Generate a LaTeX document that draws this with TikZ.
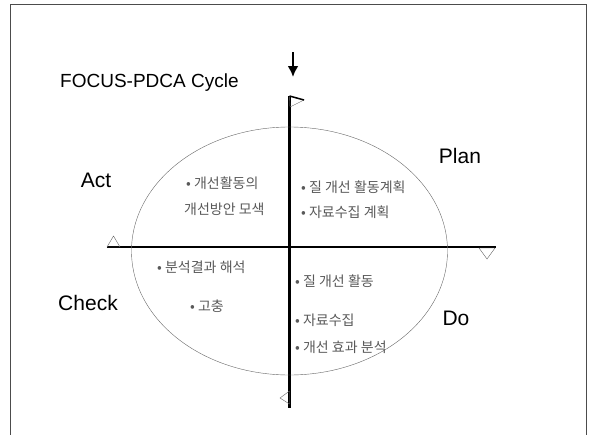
\documentclass[tikz,border=0pt]{standalone}
\usepackage{fontspec}
\setmainfont{Liberation Sans}
\newfontfamily\kor{Noto Sans CJK KR}
\usetikzlibrary{arrows.meta}
\newcommand{\fanion}[3]{\draw[thin,black!60] (#1) -- (#2) -- (#3) -- cycle}
\newcommand{\puce}[3]{\node[note] (#1) at (#2) {#3}}

\begin{document}
\begin{tikzpicture}[x=1pt,y=-1pt,
  axe/.style={line width=2.4pt},
  phase/.style={font=\fontsize{21}{24}\selectfont,inner sep=0pt},
  note/.style={font=\kor\fontsize{14}{16}\selectfont,text=black!65,anchor=west,inner sep=0pt}]
\useasboundingbox (0,0) rectangle (589,434);
%The frame
	\draw[black!70,line width=1pt] (10,440) -- (10,4.5) -- (586.5,4.5) -- (586.5,440);
%The title and the arrow
	\node[font=\fontsize{19}{21}\selectfont,anchor=west,inner sep=0pt] (titre) at (60,83) {FOCUS-PDCA Cycle};
	\coordinate (depart) at (293,52);
	\coordinate (arrivee) at (293,77);
	\draw[line width=2.6pt,-{Latex[length=11pt,width=11pt]}] (depart) -- (arrivee);
%The axes
	\coordinate (haut) at (289.5,96);
	\coordinate (bas) at (289.5,408);
	\coordinate (gauche) at (107,247);
	\coordinate (droite) at (496,247);
	\draw[axe] (haut) -- (bas);
	\draw[axe] (gauche) -- (droite);
%The cycle
	\draw[black!60,thin] (289.5,251) ellipse (158 and 124);
%The flags
	\fanion{289.5,96}{304,100}{290,107};
	\draw[line width=1.5pt] (289.5,96) -- (304,100);
	\fanion{289.5,391}{280,398}{289.5,404};
	\fanion{107,247}{113.5,236}{120,247};
	\fanion{479,248}{487,259}{495,248};
%The phases
	\node[phase] (act) at (96,180) {Act};
	\node[phase] (plan) at (460,156) {Plan};
	\node[phase] (check) at (88,303) {Check};
	\node[phase] (do) at (456,318) {Do};
%The notes
	\puce{a1}{186,183}{• 개선활동의};
	\puce{a2}{184,209}{개선방안 모색};
	\puce{p1}{301,187}{• 질 개선 활동계획};
	\puce{p2}{301,212}{• 자료수집 계획};
	\puce{c1}{157,267}{• 분석결과 해석};
	\puce{c2}{190,306}{• 고충};
	\puce{d1}{295,281}{• 질 개선 활동};
	\puce{d2}{295,320}{• 자료수집};
	\puce{d3}{295,347}{• 개선 효과 분석};
\end{tikzpicture}
\end{document}
